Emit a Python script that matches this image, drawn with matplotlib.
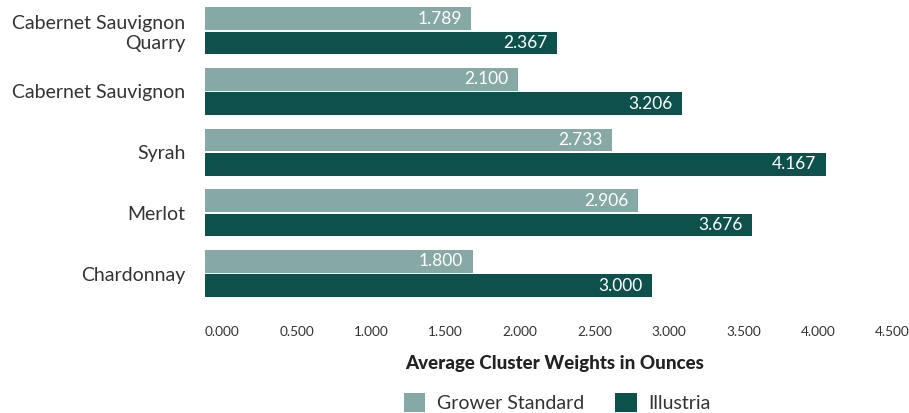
import matplotlib.pyplot as plt
import numpy as np

varieties = ["Cabernet Sauvignon\nQuarry", "Cabernet Sauvignon", "Syrah", "Merlot", "Chardonnay"]
grower = [1.789, 2.100, 2.733, 2.906, 1.800]
illustria = [2.367, 3.206, 4.167, 3.676, 3.000]
xticks = [0, 0.5, 1.0, 1.5, 2.0, 2.5, 3.0, 3.5, 4.0, 4.5]

c_light = '#87a9a6'
c_dark = '#0e514c'

plt.rcParams['font.family'] = ['Lato', 'DejaVu Sans']

fig = plt.figure(figsize=(9.09, 4.13), dpi=100)
ax = fig.add_axes([0.2255, 0.264, 0.77, 0.735])

y = np.arange(len(varieties))
h = 0.375
off = 0.2
b1 = ax.barh(y - off, grower, height=h, color=c_light, label='Grower Standard')
b2 = ax.barh(y + off, illustria, height=h, color=c_dark, label='Illustria')

for bars, vals in [(b1, grower), (b2, illustria)]:
    for bar, v in zip(bars, vals):
        ax.text(v - 0.065, bar.get_y() + bar.get_height() / 2, '%.3f' % v,
                ha='right', va='center', color='white', fontsize=12.5)

ax.set_ylim(4.5, -0.5)
ax.set_xlim(0, 4.7)
ax.set_yticks(y)
ax.set_yticklabels(varieties, fontsize=14, color='#333333')
ax.set_xticks(xticks)
ax.set_xticklabels(['%.3f' % t for t in xticks], fontsize=9.8, color='#333333', ha='left')
ax.tick_params(axis='x', length=0, pad=16)
ax.tick_params(axis='y', length=0, pad=14)
for s in ax.spines.values():
    s.set_visible(False)

ax.set_xlabel('Average Cluster Weights in Ounces', fontsize=13.5, fontweight='black',
              color='#222222', labelpad=12)

fig.legend(handles=[b1, b2], loc='center', bbox_to_anchor=(0.613, 0.025), ncol=2,
           frameon=False, fontsize=14, handlelength=1.1, handleheight=1.1,
           columnspacing=1.6, handletextpad=0.6, labelcolor='#333333')

fig.savefig('out.png', dpi=100)
